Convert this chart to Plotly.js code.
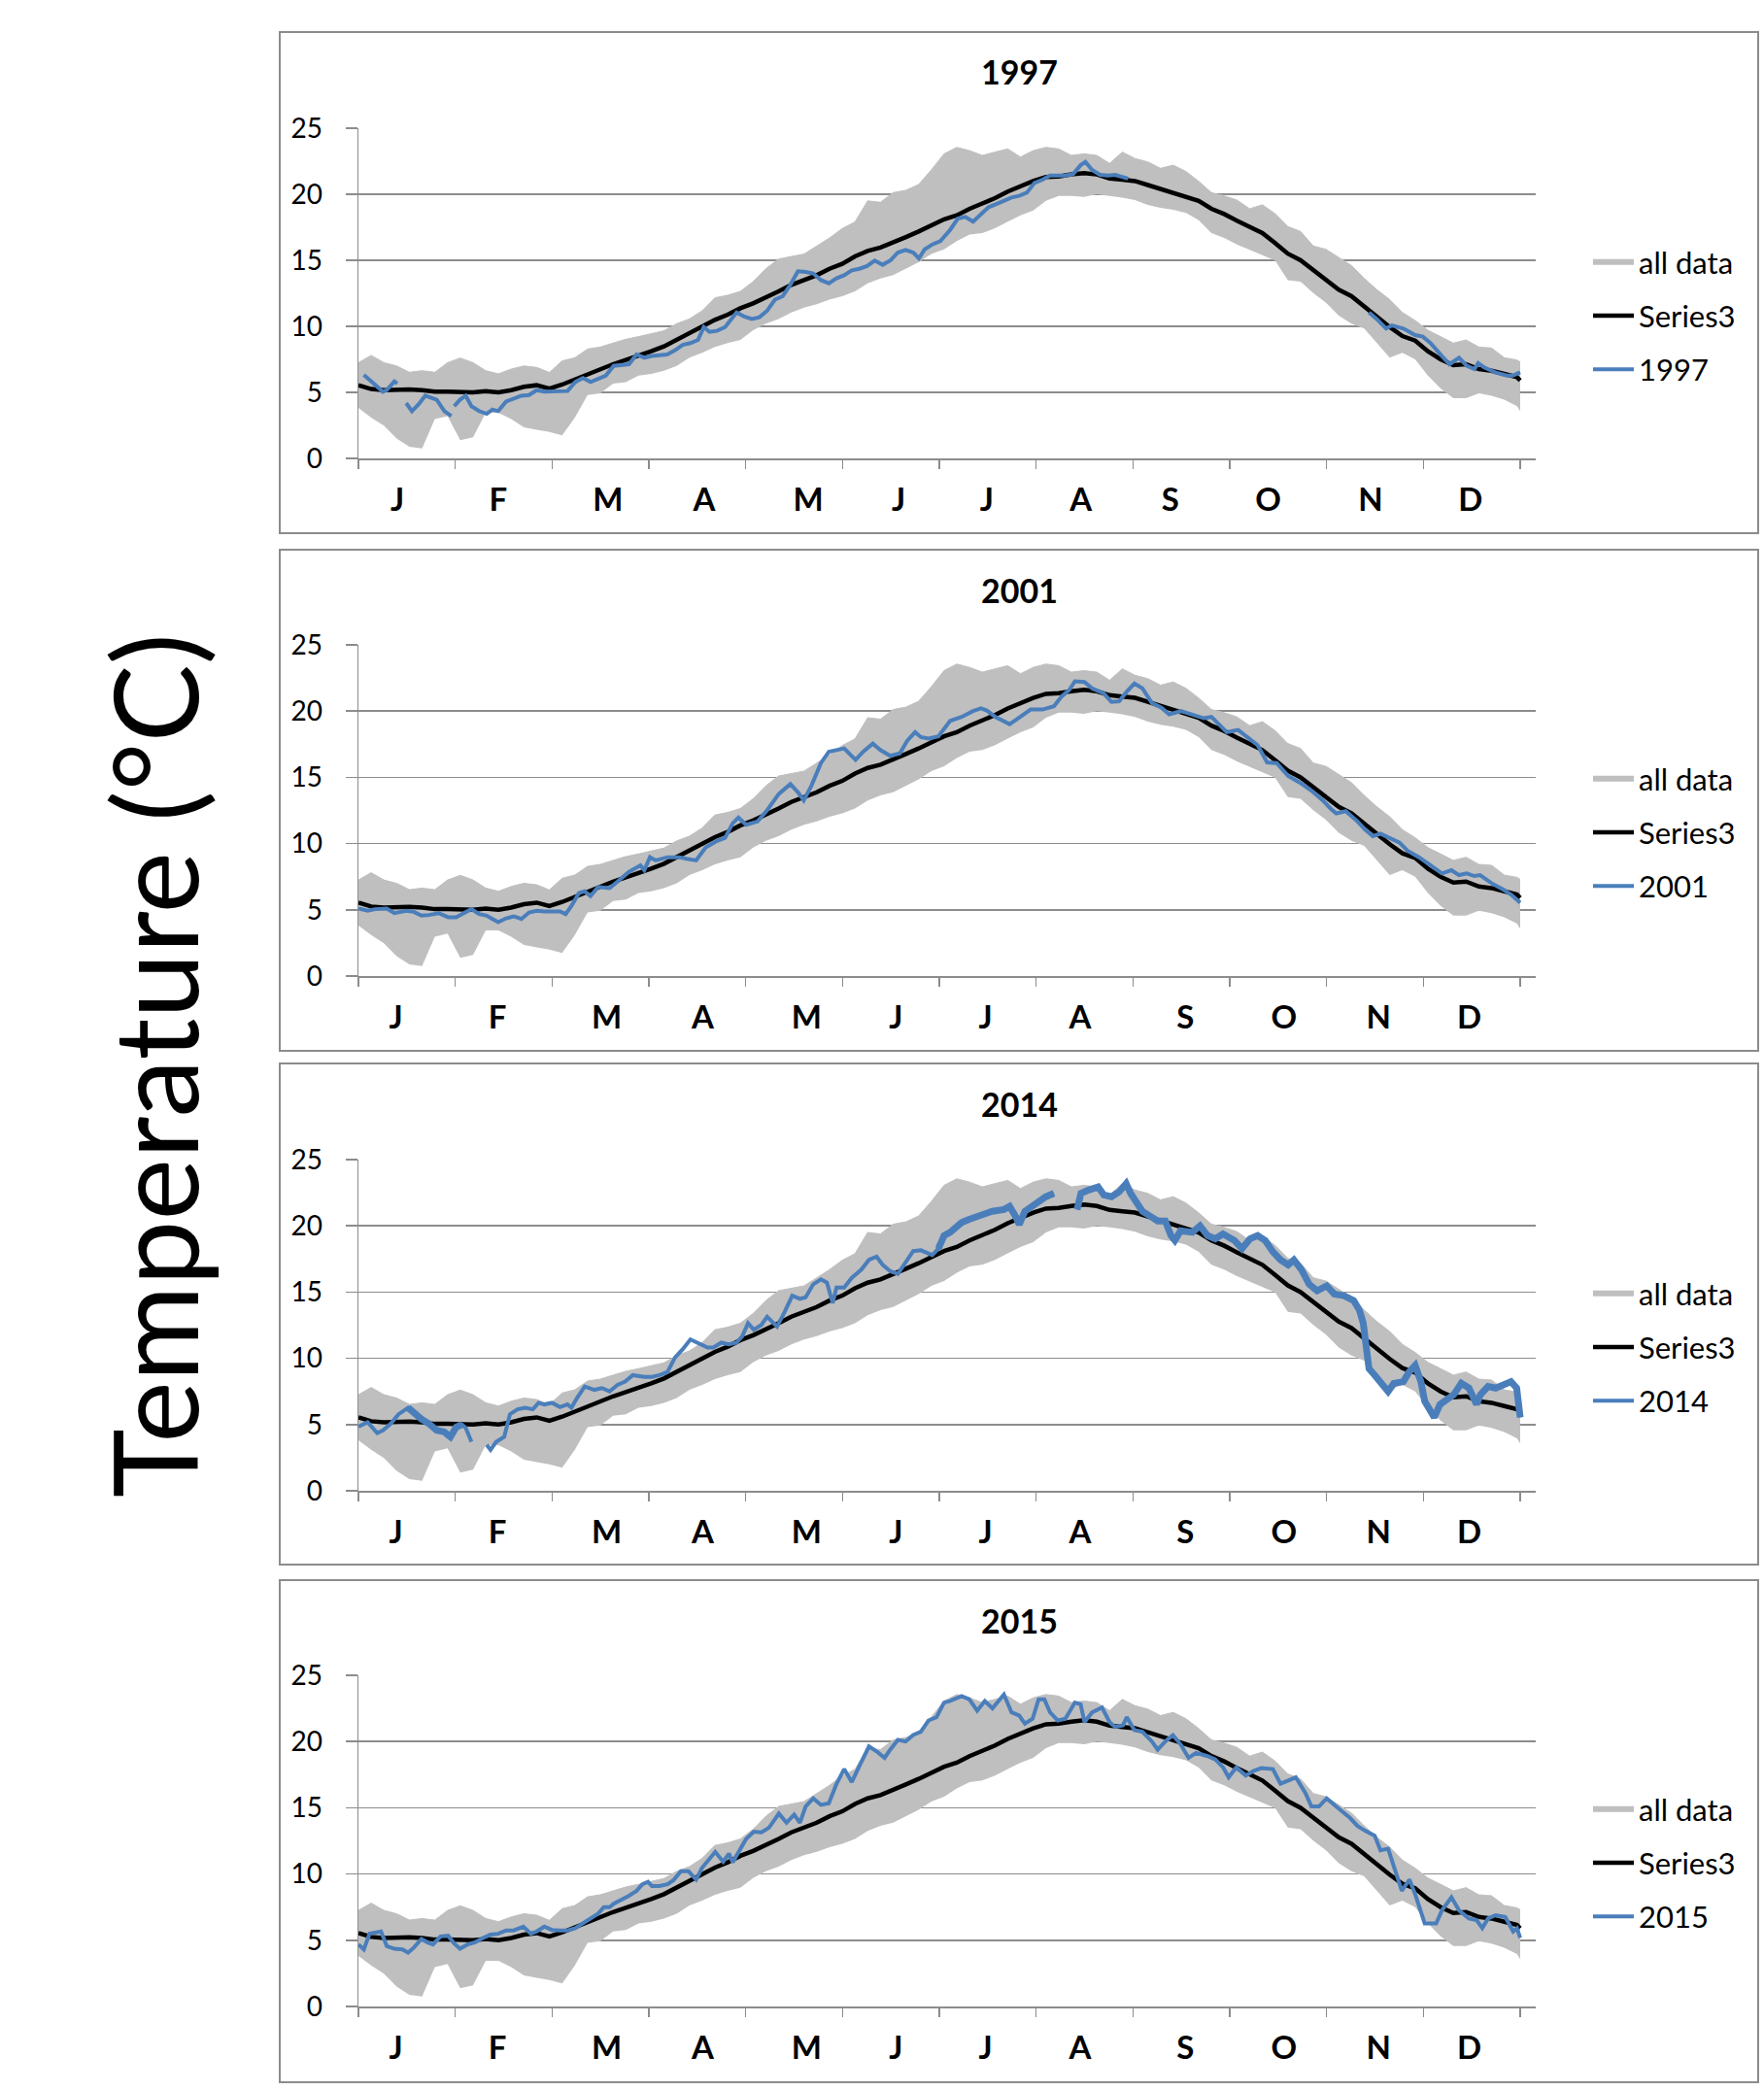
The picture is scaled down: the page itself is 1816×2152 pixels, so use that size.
<!DOCTYPE html>
<html><head><meta charset="utf-8">
<script src="https://cdn.plot.ly/plotly-3.0.1.min.js"></script>
<style>html,body{margin:0;padding:0;background:#fff;}#chart{width:1816px;height:2152px;}</style>
</head><body><div id="chart"></div>
<script>
// ---------------- DATA ----------------
const monthLetters = ['J','F','M','A','M','J','J','A','S','O','N','D'];
// label positions (day of year) as placed in the top panel and in the lower three panels
const monthLabelDaysTop = [12.2, 43.9, 78.4, 108.6, 141.3, 169.7, 197.4, 227.0, 255.1, 285.8, 318.0, 349.4];
const monthLabelDays = [11.8, 43.7, 78.0, 108.2, 140.8, 168.9, 197.0, 226.7, 259.8, 290.8, 320.5, 349.0];

const gridDays = [0,4,8,12,16,20,24,28,32,36,40,44,48,52,56,60,64,68,72,76,80,84,88,92,96,100,104,108,112,116,120,124,128,132,136,140,144,148,152,156,160,164,168,172,176,180,184,188,192,196,200,204,208,212,216,220,224,228,232,236,240,244,248,252,256,260,264,268,272,276,280,284,288,292,296,300,304,308,312,316,320,324,328,332,336,340,344,348,352,356,360,364,365];

const allDataHigh = [7.25,7.8,7.25,7.0,6.52,6.64,6.52,7.25,7.6,7.25,6.64,6.4,6.76,7.0,6.89,6.5,7.38,7.62,8.28,8.43,8.73,9.02,9.22,9.46,9.66,10.2,10.56,11.18,12.16,12.35,12.65,13.38,14.36,15.1,15.29,15.47,16.08,16.69,17.4,17.9,19.5,19.39,20.12,20.3,20.74,21.84,23.06,23.55,23.3,22.94,23.19,23.43,22.82,23.3,23.55,23.43,22.94,23.06,22.94,22.33,23.19,22.7,22.45,21.96,22.2,21.72,20.98,20.12,19.88,19.56,18.9,19.2,18.53,17.55,17.18,16.08,15.83,15.22,14.6,13.63,12.77,12.03,11.05,10.44,9.7,9.22,8.73,8.97,8.43,8.36,7.62,7.45,7.3];

const allDataLow = [3.82,3.09,2.48,1.5,0.88,0.76,2.97,3.2,1.37,1.6,3.45,3.45,2.97,2.35,2.16,2.0,1.74,3.09,4.8,4.93,5.66,5.78,6.27,6.4,6.64,7.0,7.62,7.99,8.43,8.73,8.97,9.7,10.2,10.56,11.05,11.42,11.67,12.03,12.28,12.65,13.26,13.63,13.87,14.36,14.85,15.47,15.83,16.45,16.94,17.06,17.43,17.92,18.4,18.77,19.5,19.88,19.88,19.8,20.0,19.88,19.75,19.56,19.2,18.97,18.82,18.58,18.04,17.06,16.69,16.2,15.78,15.34,14.98,13.5,13.38,12.52,11.79,10.81,10.2,9.83,8.73,7.62,7.99,7.5,6.27,5.29,4.56,4.56,4.93,4.75,4.44,3.95,3.58];

const series3 = [5.54,5.25,5.17,5.22,5.22,5.17,5.05,5.05,5.05,5.0,5.1,5.0,5.17,5.42,5.54,5.29,5.59,5.98,6.4,6.81,7.13,7.45,7.75,8.11,8.48,8.97,9.46,10.0,10.49,10.88,11.37,11.74,12.16,12.65,13.14,13.5,13.87,14.36,14.73,15.29,15.71,15.96,16.32,16.76,17.18,17.67,18.1,18.4,18.9,19.3,19.7,20.2,20.6,21.0,21.3,21.35,21.5,21.6,21.5,21.2,21.1,21.0,20.7,20.4,20.1,19.8,19.5,18.9,18.5,18.0,17.5,17.06,16.3,15.5,15.0,14.24,13.5,12.77,12.28,11.5,10.7,9.95,9.26,8.92,8.11,7.5,7.06,7.13,6.76,6.64,6.4,6.15,5.9];

const days1997 = [1.7,4.6,7.7,8.9,11.3,12.2,13.5,15,16.8,18.8,21,24.6,27,29.2,29.6,30.1,31.9,33.7,35.5,37.9,40.3,42.1,43.9,46.4,48.8,51.2,53.6,56,58.4,63.3,65.7,68.1,70.5,72.9,75.3,77.7,80.2,82.6,85,87.4,89.8,92.2,97,99.5,101.9,104.3,106.7,108.5,110.3,112.7,115.2,116.4,118.8,121.2,123.6,126,128.4,130.9,133.3,135.7,138.1,140.5,142.9,145.3,147.8,150.2,152.6,155,157.4,159.8,162.2,164.7,167.1,169.5,171.9,174.3,176.1,177.9,180.3,182.8,185.9,188.3,190.7,193.1,195.6,198,200.4,202.8,205.2,207.6,210,212.4,214.9,217.3,219.7,222.1,224.5,226.9,228.4,230.5,233,235.4,237.8,240.2,241.8,280,317.5,319.9,322.9,324.7,328.3,332,334.4,336.8,340.4,342.8,345.8,348.2,350.6,351.8,353.7,357.1,360.8,362.6,365];
const temp1997 = [6.32,5.66,5.05,5.17,5.83,5.66,null,4.19,3.58,4.07,4.75,4.44,3.58,3.21,null,3.95,4.44,4.75,3.95,3.58,3.38,3.7,3.58,4.31,4.56,4.75,4.8,5.17,5.05,5.05,5.1,5.78,6.08,5.78,6.03,6.27,7.01,7.06,7.13,7.87,7.62,7.75,7.87,8.19,8.6,8.73,8.97,9.95,9.58,9.66,9.95,10.32,11.05,10.74,10.56,10.69,11.18,12.03,12.28,13.14,14.17,14.12,14.0,13.5,13.26,13.63,13.87,14.24,14.36,14.56,14.98,14.66,14.98,15.59,15.78,15.59,15.15,15.83,16.2,16.45,17.3,18.16,18.28,17.92,18.53,19.02,19.26,19.51,19.75,19.88,20.12,20.86,21.1,21.42,21.42,21.42,21.52,22.2,22.45,21.84,21.47,21.42,21.47,21.27,21.18,null,11.05,10.56,9.83,10.07,9.83,9.34,9.22,8.73,7.75,7.13,7.62,7.01,6.76,7.21,6.89,6.52,6.27,6.27,6.52];

const days2001 = [0,2.9,5.3,8.9,11.3,15,17.4,19.8,22.2,25.2,28.2,30.7,33.1,35.5,37.9,40.3,42.1,43.9,46.4,48.8,51.2,53.6,56,58.4,63.3,65.1,66.9,69.3,71.1,72.9,75.3,78.9,81.4,85,88.6,89.8,91.6,93.4,97.1,100.7,103.1,106.1,109.1,112.7,115.2,117.6,119.4,121.8,125.4,128.4,132.1,135.7,138.1,139.9,142.3,145.3,147.8,152.6,156.2,158.6,161.6,164,167.1,170.1,172.5,174.9,176.7,179.1,182.2,183.5,185.9,189.5,193.1,195.6,197.4,200.4,204.6,207.6,211.2,214.9,218.5,220.9,223.3,225.1,228.1,230.5,234.1,236.6,239,241.4,243.8,246.3,249.3,252.3,254.7,258.4,262,265.6,268,270.4,272.8,276.4,280.1,282.5,285.5,288.5,292.1,295.7,299.4,303,305.4,307.2,310.2,313.9,316.3,318.7,321.1,324.7,327.1,329.6,333.2,336.8,340.4,343.4,345.8,348.2,350.6,352.4,356,359.7,362.1,365];
const temp2001 = [5.1,4.93,5.05,5.1,4.75,4.93,4.85,4.56,4.61,4.75,4.44,4.44,4.75,5.05,4.68,4.56,4.31,4.07,4.36,4.51,4.31,4.8,4.93,4.88,4.88,4.68,5.29,6.27,6.4,6.03,6.72,6.64,7.13,7.87,8.36,7.99,8.97,8.73,8.97,8.97,8.85,8.73,9.71,10.2,10.44,11.54,11.96,11.42,11.67,12.52,13.75,14.49,13.87,13.26,14.36,16.08,16.94,17.18,16.32,16.94,17.55,17.06,16.62,16.81,17.79,18.41,18.04,17.92,18.09,18.53,19.26,19.56,20.0,20.2,20.05,19.51,19.02,19.51,20.12,20.12,20.37,21.1,21.59,22.25,22.2,21.72,21.35,20.69,20.74,21.47,22.08,21.72,20.61,20.25,19.75,20.0,19.75,19.46,19.56,19.02,18.41,18.58,17.92,17.43,16.13,16.08,15.1,14.61,14.0,13.26,12.65,12.28,12.45,11.67,11.05,10.56,10.74,10.32,10.07,9.46,8.97,8.36,7.75,7.99,7.62,7.75,7.55,7.62,7.01,6.52,6.15,5.54];

const days2014 = [0,2.9,5.9,7.7,10.1,12.6,15.6,17.4,19.8,22.2,24.6,27,28.9,30.7,32.5,33.7,35.5,38,40.3,41.5,43.3,45.8,47.6,50,52.4,54.8,56.6,58.4,60.8,63.3,65.7,66.9,68.7,71.1,74.1,76.5,78.9,81.4,83.8,86.2,89.8,92.2,94.6,97.1,99.5,101.9,104.3,106.7,109.7,111.5,114,116.4,118.8,120.6,122.4,124.2,126.6,128.4,131.5,133.9,136.3,138.7,140.5,142.9,145.3,147.2,149,150.2,152.6,155,158,160.4,162.8,164.7,167.1,169.5,171.3,174.3,176.7,180.3,182.2,184,185.9,189.5,191.9,195.6,199.1,202.8,204.6,206.4,207.6,209.4,212.4,216,218.5,222,225.8,227,229.4,232.4,234.2,236.6,239,241.2,242.6,243.8,246.3,248.7,251.1,253.5,255.3,256.5,258.3,262,264.4,266.8,269.2,271.6,275.2,277.6,280.1,282.5,284.9,287.3,289.7,292.1,293.9,296.3,298.7,301.2,304.2,306.6,309.6,312.7,314.5,315.7,316.3,317.5,319.3,321.1,323.5,325.3,328.3,330.1,332,333.8,335,336.8,338,339.8,341.7,344.1,346.5,348.9,351.3,352.5,354.9,357.3,359.7,362.1,363.9,365];
const temp2014 = [4.85,5.17,4.36,4.56,5.05,5.78,6.27,5.83,5.42,5.05,4.56,4.44,4.07,4.8,5.0,4.75,3.7,null,3.46,3.09,3.7,4.07,5.78,6.15,6.27,6.15,6.64,6.52,6.64,6.32,6.52,6.27,7.01,7.87,7.62,7.75,7.5,7.99,8.24,8.73,8.6,8.6,8.73,8.97,10.07,10.69,11.42,11.18,10.81,10.81,11.18,11.05,11.18,11.67,12.65,12.16,12.52,13.14,12.4,13.5,14.73,14.49,14.61,15.59,15.96,15.71,14.17,15.34,15.34,16.08,16.69,17.43,17.67,17.06,16.57,16.37,17.06,18.09,18.16,17.79,18.28,19.26,19.51,20.25,20.49,20.86,21.1,21.23,21.47,20.74,20.1,21.1,21.59,22.2,22.45,null,21.23,22.45,22.7,22.94,22.33,22.2,22.57,23.19,22.45,21.96,21.1,20.74,20.37,20.37,19.26,18.9,19.63,19.51,20.0,19.26,19.02,19.39,18.9,18.28,19.02,19.26,18.9,18.04,17.43,17.06,17.43,16.69,15.59,15.1,15.47,14.85,14.73,14.36,13.63,12.65,11.18,9.22,8.73,8.24,7.5,8.11,8.24,8.97,9.46,8.24,6.76,6.03,5.54,6.52,6.89,7.25,8.11,7.75,6.52,7.25,7.87,7.75,7.99,8.24,7.75,5.54];
// periods of 2014 recorded at high (hourly) resolution, drawn as a thicker, noisy trace
const hourly2014 = [[13, 33], [182, 366]];

const days2015 = [0,1.7,3.5,5.3,7.1,8.9,11.3,13.8,15.6,17.4,19.8,21.6,23.4,25.8,28.2,30.1,31.9,34.3,36.7,39.1,41.5,43.9,46.4,48.8,51.8,54.2,56,58.4,60.8,63.3,65.7,68.1,70.5,72.9,75.3,77.1,78.9,80.2,82.6,85,87.4,89.2,91,92.2,94.6,97.1,98.9,101.3,103.7,106.1,107.9,110.3,112.1,114.6,116.4,117.6,119.4,121.8,124.2,126.6,129,132.1,134.5,136.9,138.7,140.5,142.9,145.3,147.8,150.2,152.6,155,157.4,160.4,162.8,165.3,167.1,169.5,171.9,174.3,176.7,179.1,181.6,184,185.9,189.5,191.9,194.4,196.8,199.2,202.8,205.2,207.6,209.4,211.8,213.7,215.5,217.3,219.7,222.1,225.1,226.9,228.1,230.5,233.6,236,237.8,240.2,241.4,243.8,246.3,249.3,251.1,253.5,255.9,258.4,260.8,263.2,266.8,269.2,271.7,273.4,275.8,278.8,281.3,283.7,287.3,289.7,292.1,294.5,297.6,299.4,301.8,304.2,307.8,311.5,313.9,316.3,319.3,321.1,323.5,325.9,327.8,330.2,332,335,338.6,340.4,343.4,345.8,348.9,351.3,353.1,354.9,357.3,360.3,362.8,364,365];
const temp2015 = [4.68,4.31,5.49,5.54,5.66,4.56,4.36,4.31,4.07,4.44,5.1,4.85,4.68,5.29,5.34,4.75,4.36,4.68,4.85,5.17,5.42,5.49,5.74,5.74,6.03,5.49,5.66,6.03,5.78,5.74,5.74,5.91,6.27,6.64,7.01,7.5,7.5,7.75,8.04,8.36,8.73,9.22,9.41,9.09,9.09,9.22,9.51,10.2,10.2,9.58,10.44,11.18,11.67,10.93,11.54,10.88,11.67,12.65,13.19,13.14,13.5,14.56,13.87,14.49,13.87,15.1,15.71,15.22,15.34,16.81,17.92,16.94,18.16,19.63,19.26,18.77,19.39,20.12,20.0,20.49,20.74,21.59,21.84,22.94,23.06,23.43,23.19,22.33,23.06,22.5,23.55,22.2,21.96,21.35,21.72,23.19,23.19,22.2,21.59,21.72,22.94,22.82,21.47,22.2,22.57,21.47,21.1,21.23,21.84,20.86,20.74,20.0,19.39,20.0,20.49,19.75,18.77,19.14,18.9,18.65,18.04,17.3,18.04,17.43,17.79,17.99,17.92,16.81,17.06,17.3,16.08,15.1,15.1,15.71,14.98,14.24,13.63,13.26,12.89,11.79,11.91,10.2,8.73,9.58,8.48,6.27,6.27,7.25,8.24,7.25,6.64,6.52,5.91,6.64,6.89,6.76,5.66,5.91,5.17];

const panelYears = ['1997','2001','2014','2015'];
const panelDays = [days1997, days2001, days2014, days2015];
const panelTemps = [temp1997, temp2001, temp2014, temp2015];

// ---------------- LAYOUT / STYLE ----------------
const W = 1816, H = 2152;
const FONT = 'Lato, Carlito, "Open Sans", sans-serif';
const GRAY = '#BFBFBF', BLUE = '#4A7EBB', AXIS = '#8C8C8C';
const fx = v => v / W, fy = v => 1 - v / H;
const boxL = 288, boxR = 1810;
const boxTop = [33, 566, 1095, 1627], boxBot = [549, 1082, 1611, 2144];
const plotL = 369, plotR = 1581;
const plotTop = [132, 664, 1194, 1725], plotBot = [472, 1005, 1535, 2066];
const xMax = 365 * (plotR - plotL) / (1565 - plotL);
const monthTicks = [];
for (let k = 0; k <= 12; k++) monthTicks.push(k * 365 / 12);

const traces = [];
const layout = {
  width: W, height: H, margin: {l: 0, r: 0, t: 0, b: 0},
  paper_bgcolor: '#fff', plot_bgcolor: 'rgba(0,0,0,0)',
  font: {family: FONT, color: '#000'},
  showlegend: true, shapes: [], annotations: []
};

for (let i = 0; i < 4; i++) {
  const s = i === 0 ? '' : String(i + 1);
  const xa = 'x' + s, ya = 'y' + s, leg = 'legend' + s;
  const common = {xaxis: xa, yaxis: ya, legend: leg, hoverinfo: 'skip', mode: 'lines'};
  traces.push(Object.assign({}, common, {x: gridDays, y: allDataLow, line: {width: 0, color: GRAY}, showlegend: false}));
  traces.push(Object.assign({}, common, {x: gridDays, y: allDataHigh, fill: 'tonexty', fillcolor: GRAY, line: {width: 1, color: GRAY}, showlegend: false}));
  traces.push(Object.assign({}, common, {x: [null], y: [null], name: 'all data', line: {width: 6, color: GRAY}, legendgroup: 'a' + i}));
  traces.push(Object.assign({}, common, {x: gridDays, y: series3, name: 'Series3', line: {width: 4.5, color: '#000'}, legendgroup: 'b' + i}));
  traces.push(Object.assign({}, common, {x: panelDays[i], y: panelTemps[i], name: panelYears[i], line: {width: 4, color: BLUE}, connectgaps: false, legendgroup: 'c' + i}));
  if (panelYears[i] === '2014') {
    const thick = panelTemps[i].map((v, j) => hourly2014.some(r => panelDays[i][j] >= r[0] && panelDays[i][j] <= r[1]) ? v : null);
    traces.push(Object.assign({}, common, {x: panelDays[i], y: thick, showlegend: false, line: {width: 7, color: BLUE}, connectgaps: false}));
  }

  const labelDays = i === 0 ? monthLabelDaysTop : monthLabelDays;
  layout['xaxis' + s] = {
    domain: [fx(plotL), fx(plotR)], anchor: ya, range: [0, xMax], fixedrange: true,
    tickmode: 'array', tickvals: labelDays, ticktext: monthLetters.map(t => '<b>' + t + '</b>'),
    ticks: '', showgrid: false, zeroline: false,
    showline: true, linecolor: AXIS, linewidth: 1.5,
    tickfont: {family: FONT, size: 33, color: '#000'}, ticklabelstandoff: 13,
    minor: {tickvals: monthTicks, ticks: 'outside', ticklen: 9, tickcolor: AXIS, tickwidth: 1.5, showgrid: false}
  };
  layout['yaxis' + s] = {
    domain: [fy(plotBot[i]), fy(plotTop[i])], anchor: xa, range: [0, 25], fixedrange: true,
    tickmode: 'linear', tick0: 0, dtick: 5,
    showgrid: true, gridcolor: AXIS, gridwidth: 1.5, zeroline: false,
    showline: true, linecolor: AXIS, linewidth: 1.5,
    ticks: 'outside', ticklen: 12, tickcolor: AXIS, tickwidth: 1.5,
    tickfont: {family: FONT, size: 28, color: '#000'}, ticklabelstandoff: 18
  };
  layout[leg] = {
    x: fx(1635), xanchor: 'left', y: fy(plotTop[i] + 111), yanchor: 'top',
    bgcolor: 'rgba(0,0,0,0)', borderwidth: 0,
    font: {family: FONT, size: 31, color: '#000'},
    traceorder: 'grouped', tracegroupgap: 12, itemwidth: 42
  };
  layout.shapes.push({type: 'rect', xref: 'paper', yref: 'paper',
    x0: fx(boxL), x1: fx(boxR), y0: fy(boxBot[i]), y1: fy(boxTop[i]),
    line: {color: AXIS, width: 2}, fillcolor: 'rgba(0,0,0,0)', layer: 'below'});
  layout.annotations.push({xref: 'paper', yref: 'paper', x: fx((boxL + boxR) / 2), y: fy(boxTop[i] + 41),
    xanchor: 'center', yanchor: 'middle', showarrow: false,
    text: '<b>' + panelYears[i] + '</b>', font: {family: FONT, size: 34, color: '#000'}});
}
layout.annotations.push({xref: 'paper', yref: 'paper', x: fx(158), y: fy(1097),
  xanchor: 'center', yanchor: 'middle', showarrow: false, textangle: -90,
  text: 'Temperature (°C)', font: {family: FONT, size: 120, color: '#000'}});

Plotly.newPlot('chart', traces, layout, {staticPlot: true, displayModeBar: false});
</script>
</body></html>
